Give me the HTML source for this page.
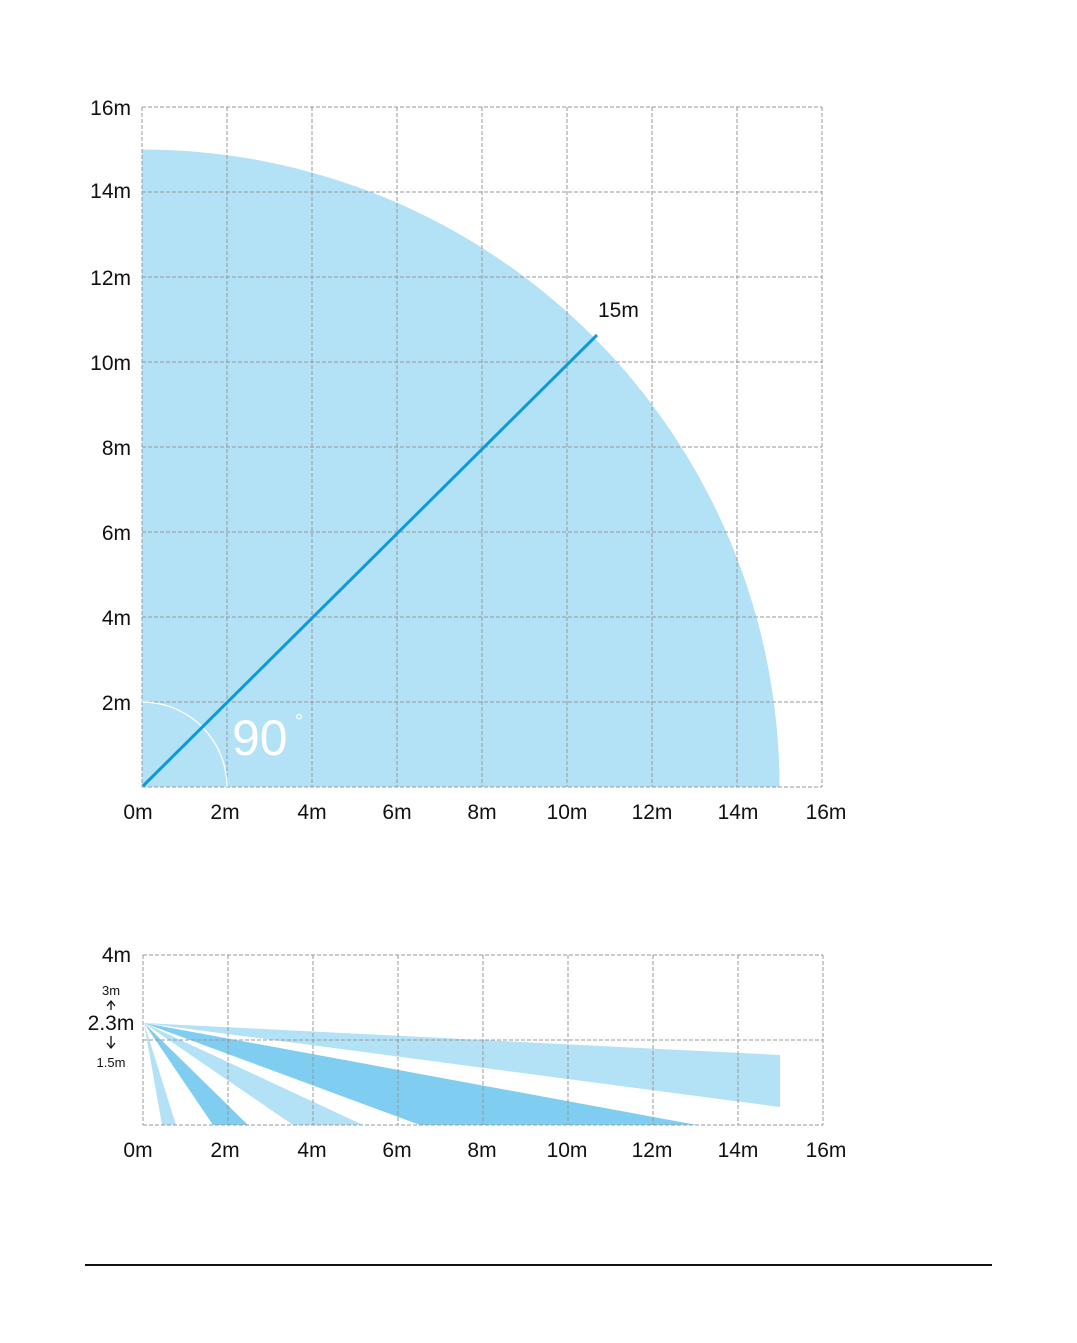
<!DOCTYPE html>
<html><head><meta charset="utf-8"><style>
html,body{margin:0;padding:0;background:#fff}
svg text{font-family:"Liberation Sans",sans-serif;fill:#111}
</style></head><body>
<svg width="1077" height="1338" viewBox="0 0 1077 1338" xmlns="http://www.w3.org/2000/svg">
<!-- top chart -->
<path d="M142,787 L142,149.5 A637.5,637.5 0 0 1 779.5,787 Z" fill="#b3e1f5"/>
<g stroke="#999" stroke-width="1" stroke-dasharray="4,2" fill="none">
<line x1="142" y1="107" x2="142" y2="787"/><line x1="227" y1="107" x2="227" y2="787"/><line x1="312" y1="107" x2="312" y2="787"/><line x1="397" y1="107" x2="397" y2="787"/><line x1="482" y1="107" x2="482" y2="787"/><line x1="567" y1="107" x2="567" y2="787"/><line x1="652" y1="107" x2="652" y2="787"/><line x1="737" y1="107" x2="737" y2="787"/><line x1="822" y1="107" x2="822" y2="787"/>
<line x1="142" y1="107" x2="822" y2="107"/><line x1="142" y1="192" x2="822" y2="192"/><line x1="142" y1="277" x2="822" y2="277"/><line x1="142" y1="362" x2="822" y2="362"/><line x1="142" y1="447" x2="822" y2="447"/><line x1="142" y1="532" x2="822" y2="532"/><line x1="142" y1="617" x2="822" y2="617"/><line x1="142" y1="702" x2="822" y2="702"/><line x1="142" y1="787" x2="822" y2="787"/>
</g>
<path d="M142,702 A85,85 0 0 1 227,787" fill="none" stroke="#fff" stroke-width="1.2"/>
<line x1="143" y1="786" x2="597" y2="335" stroke="#0d9ad8" stroke-width="3"/>
<text x="232" y="755" font-size="50" style="fill:#fff">90</text>
<text x="295" y="728" font-size="20" style="fill:#fff">°</text>
<text x="598" y="317" font-size="21">15m</text>
<g font-size="21" text-anchor="end">
<text x="131" y="115">16m</text><text x="131" y="198">14m</text><text x="131" y="285">12m</text><text x="131" y="370">10m</text><text x="131" y="455">8m</text><text x="131" y="540">6m</text><text x="131" y="625">4m</text><text x="131" y="710">2m</text>
</g>
<g font-size="21" text-anchor="middle">
<text x="138" y="819">0m</text><text x="225" y="819">2m</text><text x="312" y="819">4m</text><text x="397" y="819">6m</text><text x="482" y="819">8m</text><text x="567" y="819">10m</text><text x="652" y="819">12m</text><text x="738" y="819">14m</text><text x="826" y="819">16m</text>
</g>
<!-- bottom chart -->
<polygon points="144,1023 780,1055 780,1107" fill="#b3e1f5"/>
<polygon points="144,1023 697,1125 420,1125" fill="#7fcdf0"/>
<polygon points="144,1023 363,1125 293,1125" fill="#b3e1f5"/>
<polygon points="144,1023 248,1125 213,1125" fill="#7fcdf0"/>
<polygon points="144,1023 176,1125 162,1125" fill="#b3e1f5"/>
<g stroke="#999" stroke-width="1" stroke-dasharray="4,2" fill="none">
<line x1="143" y1="955" x2="143" y2="1125"/><line x1="228" y1="955" x2="228" y2="1125"/><line x1="313" y1="955" x2="313" y2="1125"/><line x1="398" y1="955" x2="398" y2="1125"/><line x1="483" y1="955" x2="483" y2="1125"/><line x1="568" y1="955" x2="568" y2="1125"/><line x1="653" y1="955" x2="653" y2="1125"/><line x1="738" y1="955" x2="738" y2="1125"/><line x1="823" y1="955" x2="823" y2="1125"/>
<line x1="143" y1="955" x2="823" y2="955"/><line x1="143" y1="1040" x2="823" y2="1040"/><line x1="143" y1="1125" x2="823" y2="1125"/>
</g>
<text x="131" y="962" font-size="21" text-anchor="end">4m</text>
<text x="111" y="995" font-size="13" text-anchor="middle">3m</text>
<text x="111" y="1030" font-size="21" text-anchor="middle">2.3m</text>
<text x="111" y="1067" font-size="13" text-anchor="middle">1.5m</text>
<g stroke="#111" stroke-width="1.3" fill="none">
<line x1="111" y1="1002" x2="111" y2="1010"/><polyline points="107,1006 111,1001 115,1006"/>
<line x1="111" y1="1036" x2="111" y2="1048"/><polyline points="107,1043 111,1048 115,1043"/>
</g>
<g font-size="21" text-anchor="middle">
<text x="138" y="1157">0m</text><text x="225" y="1157">2m</text><text x="312" y="1157">4m</text><text x="397" y="1157">6m</text><text x="482" y="1157">8m</text><text x="567" y="1157">10m</text><text x="652" y="1157">12m</text><text x="738" y="1157">14m</text><text x="826" y="1157">16m</text>
</g>
<line x1="85" y1="1265" x2="992" y2="1265" stroke="#111" stroke-width="2"/>
</svg>
</body></html>
